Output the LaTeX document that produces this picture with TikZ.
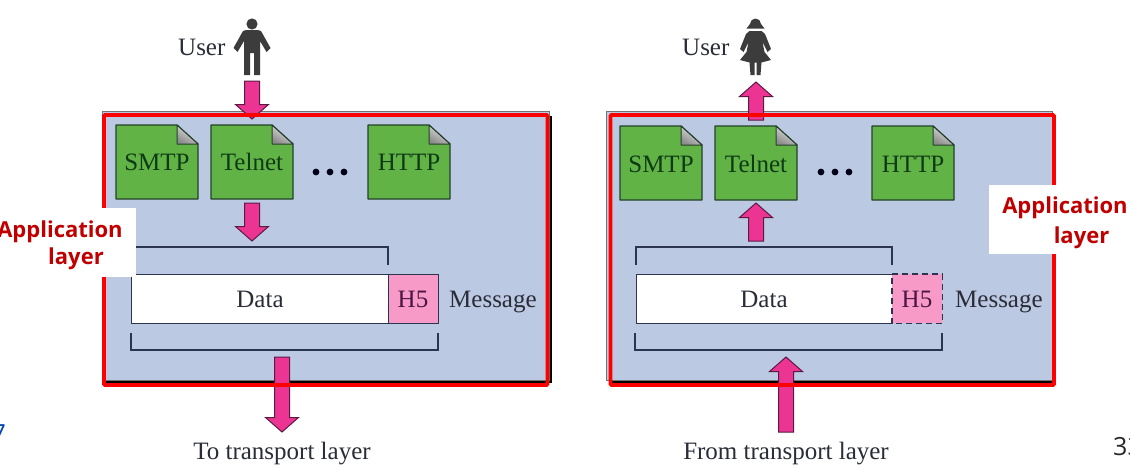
\documentclass[tikz,border=0pt]{standalone}
\usepackage{fontspec}
\setmainfont{Liberation Serif}
\newfontfamily\appfont{Open Sans}
\usetikzlibrary{calc,shadings}
\definecolor{panelblue}{HTML}{BCC9E2}
\definecolor{docgreen}{HTML}{62B346}
\definecolor{docedge}{HTML}{24402A}
\definecolor{docink}{HTML}{0E3A16}
\definecolor{arrowpink}{HTML}{EC3493}
\definecolor{arrowedge}{HTML}{5A1A42}
\definecolor{hpink}{HTML}{F79AC8}
\definecolor{hink}{HTML}{4A1540}
\definecolor{ink}{HTML}{2A2D38}
\definecolor{brk}{HTML}{2C3550}
\definecolor{redbox}{HTML}{FF0000}
\definecolor{apptext}{HTML}{C00000}
\definecolor{person}{HTML}{3C3C3C}
\tikzset{
  x=1pt,y=-1pt,
  serif24/.style={font=\fontsize{25}{25}\selectfont,inner sep=0pt,anchor=base},
  doclabel/.style={serif24,text=docink},
  plainlabel/.style={serif24,text=ink},
  hlabel/.style={serif24,text=hink},
  apptxt/.style={font=\appfont\bfseries\fontsize{22}{22}\selectfont,text=apptext,inner sep=0pt,anchor=base},
  panel/.style={fill=panelblue,draw=none},
  redframe/.style={draw=redbox,line width=3.8pt,rounded corners=1pt},
  docshape/.style={fill=docgreen,draw=docedge,line width=1.3pt,line join=round},
  foldshape/.style={top color=white!92!black,bottom color=black!45,shading angle=-30,draw=docedge,line width=1pt,line join=round},
  blockstyle/.style={fill=arrowpink,draw=arrowedge,line width=1pt,line join=miter},
  bracket/.style={draw=brk,line width=1.3pt},
  databox/.style={draw=brk,line width=1.4pt,fill=white},
  hsolid/.style={draw=brk,line width=1.4pt,fill=hpink},
  hdashed/.style={draw=brk,line width=1.5pt,dash pattern=on 6pt off 4pt},
  hfill/.style={fill=hpink,draw=none},
  figure/.style={fill=person,draw=none},
  whitebox/.style={fill=white,draw=none},
  dotmark/.style={fill=black!90!blue,draw=none},
}
% block arrow between two named coordinates
\newcommand{\blockarrow}[2]{%
  \draw[blockstyle] let \p1=(#1),\p2=(#2),\n1={(\y2>\y1)?14.5pt:-14.5pt} in
    (\x1-7.5pt,\y1) -- (\x1-7.5pt,\y2-\n1) -- (\x1-16.5pt,\y2-\n1) -- (\x2,\y2)
    -- (\x1+16.5pt,\y2-\n1) -- (\x1+7.5pt,\y2-\n1) -- (\x1+7.5pt,\y1) -- cycle;}
% document icon: name, left, top, label, baseline
\newcommand{\docicon}[5]{%
  \draw[docshape] (#2,#3) -- ({#2+61},#3) -- ({#2+82},{#3+19}) -- ({#2+82},{#3+74}) -- (#2,{#3+74}) -- cycle;
  \draw[foldshape] ({#2+61},#3) -- ({#2+82},{#3+19}) -- ({#2+61},{#3+19}) -- cycle;
  \node[doclabel] (#1) at ({#2+41},#5) {#4};}
\newcommand{\threedots}[2]{%
  \fill[dotmark] (#1,#2) circle (3.4) ({#1+14},#2) circle (3.4) ({#1+28},#2) circle (3.4);}
\begin{document}
\begin{tikzpicture}
\path[use as bounding box,clip] (0,0) rectangle (1130,466);
\fill[white] (0,0) rectangle (1130,466);

% ---------- left panel ----------
\fill[black] (104,116) rectangle (552,383);
\fill[panel,draw=black!55,line width=.8pt] (102,111) rectangle (549,380);
\docicon{lsmtp}{116}{125}{SMTP}{170}
\docicon{ltelnet}{211}{125}{Telnet}{170}
\docicon{lhttp}{368}{125}{HTTP}{170}
\threedots{316}{172}
\draw[bracket] (132,265) -- (132,247) -- (388,247) -- (388,265);
\node[databox,minimum width=257pt,minimum height=49pt,inner sep=0pt,anchor=north west] (ldata) at (131,274) {};
\node[hsolid,minimum width=50pt,minimum height=49pt,inner sep=0pt,anchor=north west] (lh) at (388,274) {};
\node[plainlabel] (ldatat) at (260,307) {Data};
\node[hlabel] (lht) at (413,307) {H5};
\node[plainlabel,anchor=base west] (lmsg) at (449,307) {Message};
\draw[bracket] (131,333) -- (131,350) -- (438,350) -- (438,333);
\coordinate (la1s) at (252,81);  \coordinate (la1e) at (252,119);
\coordinate (la2s) at (252,203); \coordinate (la2e) at (252,241);
\coordinate (la3s) at (282,357); \coordinate (la3e) at (282,432);
\blockarrow{la1s}{la1e}
\blockarrow{la2s}{la2e}
\blockarrow{la3s}{la3e}
\draw[redframe] (104,115) rectangle (547.5,385);
\node[plainlabel,anchor=base west] (luser) at (178,55) {User};
\node[plainlabel] (lto) at (282,459) {To transport layer};
% man
\fill[figure] (252,24) circle (5.6);
\fill[figure] (246,30) -- (258,30) -- (261,31) -- (270.5,48) -- (266.5,52) -- (260,41) -- (260,75) -- (254,75) -- (254,53) -- (250,53) -- (250,75) -- (244,75) -- (244,41) -- (237.5,52) -- (233.5,48) -- (243,31) -- cycle;
\node[whitebox,inner sep=0pt,minimum width=136pt,minimum height=69pt,anchor=north west] (lapp) at (0,208) {};
\node[apptxt] (lappa) at (60,237) {Application};
\node[apptxt] (lappb) at (76,264) {layer};

% ---------- right panel ----------
\fill[black] (609,116) rectangle (1056,383);
\fill[panel,draw=black!55,line width=.8pt] (606.5,111) rectangle (1052,380);
\docicon{rsmtp}{620}{126}{SMTP}{172}
\docicon{rtelnet}{715}{126}{Telnet}{172}
\docicon{rhttp}{872}{126}{HTTP}{172}
\threedots{821}{172}
\draw[bracket] (636,265) -- (636,247) -- (892,247) -- (892,265);
\node[databox,minimum width=256pt,minimum height=49pt,inner sep=0pt,anchor=north west] (rdata) at (636,274) {};
\node[hfill,minimum width=50pt,minimum height=49pt,inner sep=0pt,anchor=north west] (rh) at (892,274) {};
\draw[hdashed] (rh.north west) -- (rh.north east) -- (rh.south east) -- (rh.south west) -- (rh.north west);
\node[plainlabel] (rdatat) at (764,307) {Data};
\node[hlabel] (rht) at (917,307) {H5};
\node[plainlabel,anchor=base west] (rmsg) at (955,307) {Message};
\draw[bracket] (635,333) -- (635,350) -- (942,350) -- (942,333);
\coordinate (ra1s) at (756,120); \coordinate (ra1e) at (756,82);
\coordinate (ra2s) at (756,241); \coordinate (ra2e) at (756,203);
\coordinate (ra3s) at (786,432); \coordinate (ra3e) at (786,357);
\blockarrow{ra1s}{ra1e}
\blockarrow{ra2s}{ra2e}
\blockarrow{ra3s}{ra3e}
\draw[redframe] (610.5,115) rectangle (1054,385);
\node[plainlabel,anchor=base west] (ruser) at (682,55) {User};
\node[plainlabel] (rfrom) at (786,459) {From transport layer};
% woman
\fill[figure] (746.5,28.5) -- (750,24) arc[start angle=180,end angle=360,radius=5.5] -- (764.5,28.5) -- cycle;
\fill[figure] (749.5,31) -- (761.5,31) -- (765,34) -- (771,49) -- (767.5,52) -- (762.5,42) -- (764.5,52) -- (771,60) -- (761.5,62.5) -- (760.5,75) -- (756.5,75) -- (756.5,62.5) -- (754.5,62.5) -- (754.5,75) -- (750.5,75) -- (749.5,62.5) -- (740,60) -- (746.5,52) -- (748.5,42) -- (743.5,52) -- (740,49) -- (746,34) -- cycle;
\node[whitebox,inner sep=0pt,minimum width=141pt,minimum height=69pt,anchor=north west] (rapp) at (989,185) {};
\node[apptxt] (rappa) at (1065,213) {Application};
\node[apptxt] (rappb) at (1081.5,243) {layer};

% ---------- page fragments ----------
\node[inner sep=0pt,anchor=base east,text=blue!60!cyan!70!black,font=\appfont\fontsize{25}{25}\selectfont] (pgl) at (6,442) {7};
\node[inner sep=0pt,anchor=base west,text=black!85,font=\appfont\fontsize{25}{25}\selectfont] (pgr) at (1113,455) {33};
\end{tikzpicture}
\end{document}
